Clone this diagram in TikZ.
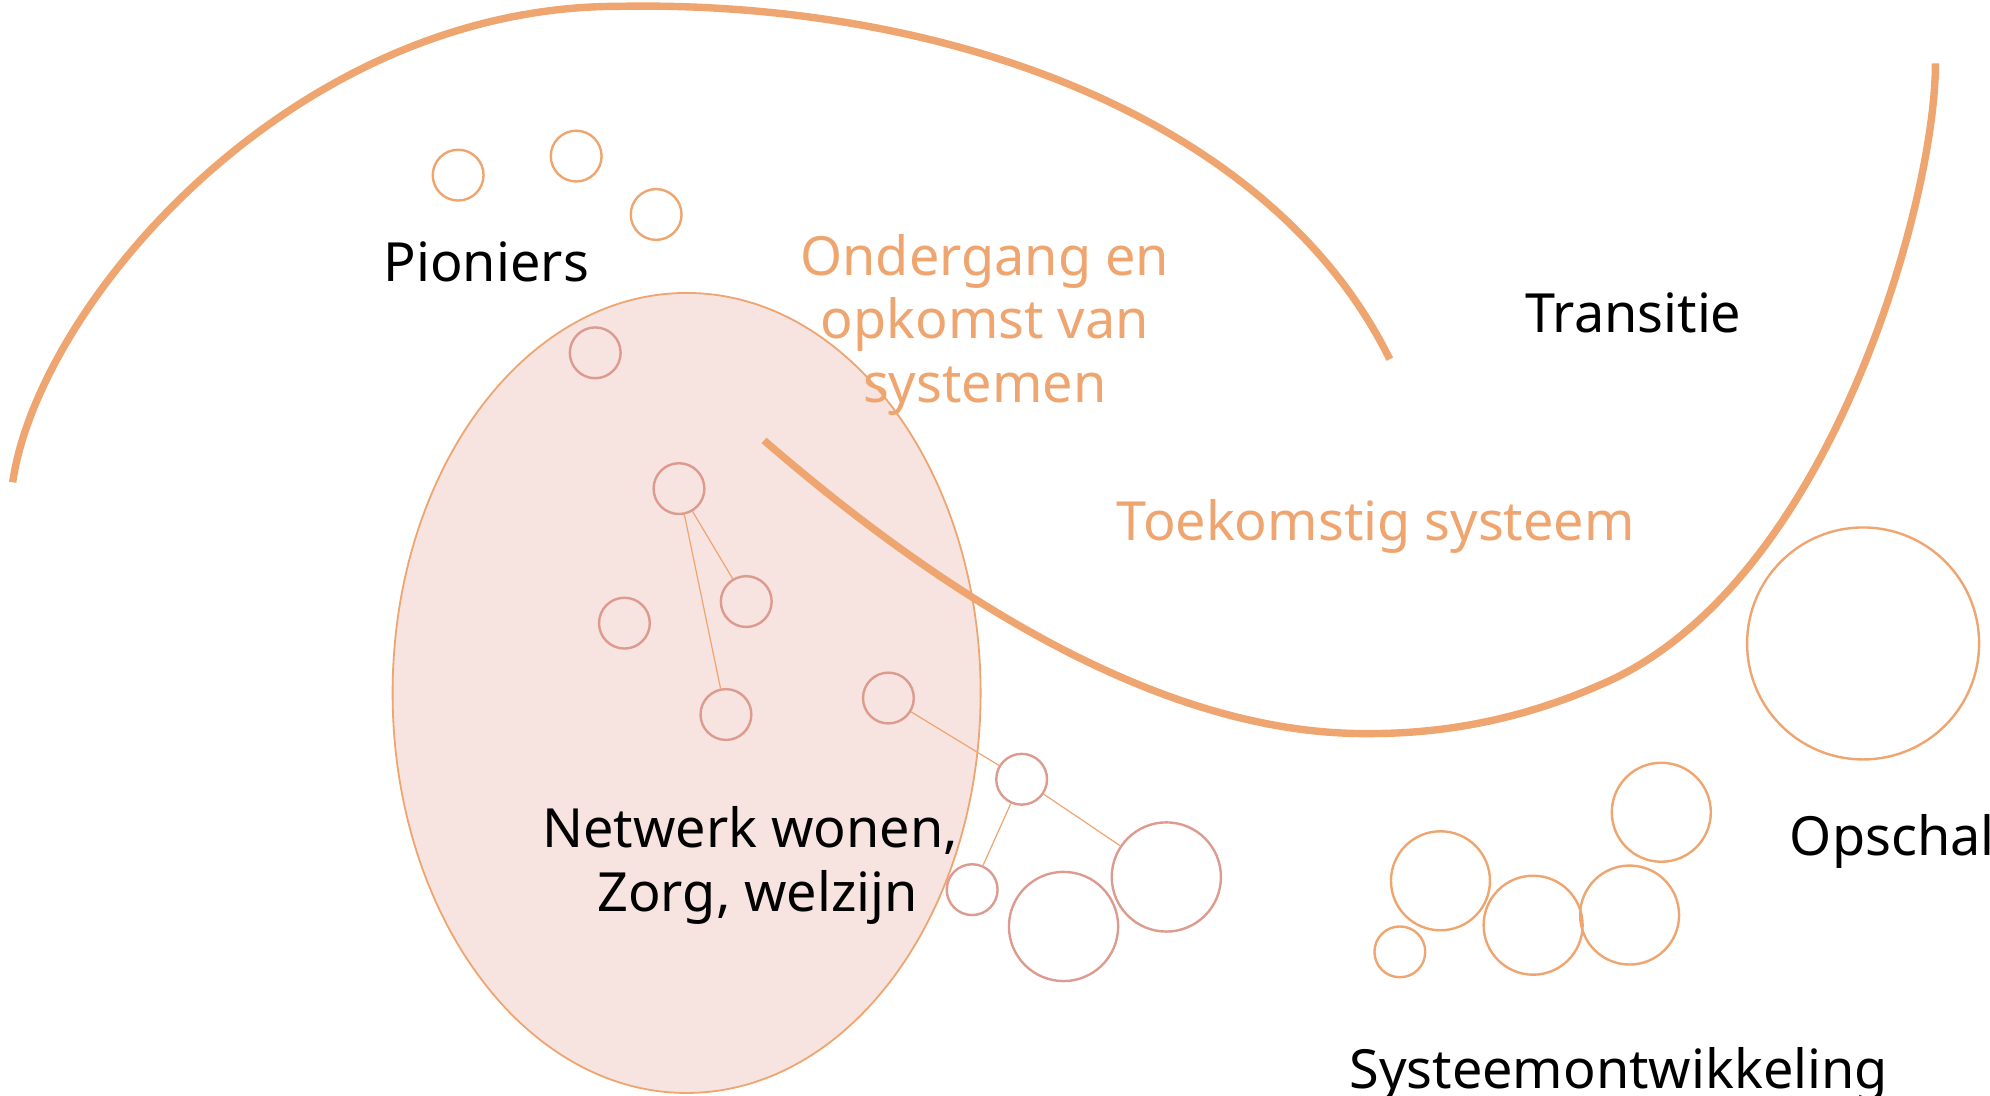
\documentclass[tikz,border=0pt]{standalone}
\usepackage{fontspec}
\setmainfont{Noto Sans}
\usetikzlibrary{shapes.geometric}
\definecolor{orng}{HTML}{EEA56F}
\definecolor{pnk}{HTML}{DD9B90}
\definecolor{pfill}{HTML}{F7E3E0}
\tikzset{
  thickcurve/.style={draw=orng, line width=3.7pt},
  ocirc/.style={circle, draw=orng, line width=1.2pt, inner sep=0pt, minimum size=#1},
  pcirc/.style={circle, draw=pnk, line width=1.2pt, inner sep=0pt, minimum size=#1},
  link/.style={draw=orng, line width=0.6pt},
  lbl/.style={font=\fontsize{27pt}{32pt}\selectfont, text=black, inner sep=0pt},
  olbl/.style={font=\fontsize{27pt}{32pt}\selectfont, text=orng, inner sep=0pt},
}
\begin{document}
\begin{tikzpicture}[x=0.63455pt, y=-0.63455pt]
\useasboundingbox (0,0) rectangle (1568,863);
% ellipse
\node[ellipse, draw=orng, fill=pfill, line width=0.9pt, minimum width=294pt, minimum height=400pt, inner sep=0pt] (net) at (541,546) {};
% top curve
\draw[thickcurve] (10,380) .. controls (30,240) and (230,5) .. (487,5)
                  .. controls (740,0) and (1000,90) .. (1095,283);
% pioneer circles
\node[ocirc=25.4pt] (p1) at (361,138) {};
\node[ocirc=25.4pt] (p2) at (454,123) {};
\node[ocirc=25.4pt] (p3) at (517,169) {};
% network circles
\node[pcirc=25.4pt] (n0) at (469,278) {};
\node[pcirc=25.4pt] (n1) at (535,385) {};
\node[pcirc=25.4pt] (n2) at (588,474) {};
\node[pcirc=25.4pt] (n3) at (492,491) {};
\node[pcirc=25.4pt] (n4) at (572,563) {};
\node[pcirc=25.4pt] (n5) at (700,550) {};
\node[pcirc=25.4pt] (n6) at (805,614) {};
\node[pcirc=25.4pt] (n7) at (766,701) {};
\node[pcirc=54.6pt] (n8) at (838,730) {};
\node[pcirc=54.6pt] (n9) at (919,691) {};
\draw[link] (n1) -- (n2);
\draw[link] (n1) -- (n4);
\draw[link] (n5) -- (n6);
\draw[link] (n6) -- (n7);
\draw[link] (n6) -- (n9);
% lower curve
\draw[thickcurve] (602,347) .. controls (750,475) and (920,580) .. (1080,578)
                  .. controls (1150,578) and (1210,562) .. (1260,540)
                  .. controls (1440,465) and (1525,160) .. (1525,50);
% right circles
\node[ocirc=116pt] (s0) at (1468,507) {};
\node[ocirc=49.5pt] (s1) at (1309,640) {};
\node[ocirc=49.5pt] (s2) at (1135,694) {};
\node[ocirc=49.5pt] (s3) at (1208,729) {};
\node[ocirc=49.5pt] (s4) at (1284,721) {};
\node[ocirc=25.4pt] (s5) at (1103,750) {};
% labels
\node[lbl, anchor=base west] (tp) at (302,222) {Pioniers};
\node[olbl, anchor=base] (to1) at (776,217) {Ondergang en};
\node[olbl, anchor=base] (to2) at (776,267) {opkomst van};
\node[olbl, anchor=base] (to3) at (776,317) {systemen};
\node[lbl, anchor=base] (tt) at (1287,262) {Transitie};
\node[olbl, anchor=base] (tf) at (1084,426) {Toekomstig systeem};
\node[lbl, anchor=base] (tn1) at (591,668) {Netwerk wonen,};
\node[lbl, anchor=base] (tn2) at (597,718) {Zorg, welzijn};
\node[lbl, anchor=base west] (tos) at (1410,674) {Opschal};
\node[lbl, anchor=base west] (tsy) at (1063,858) {Systeemontwikkeling};
\end{tikzpicture}
\end{document}
